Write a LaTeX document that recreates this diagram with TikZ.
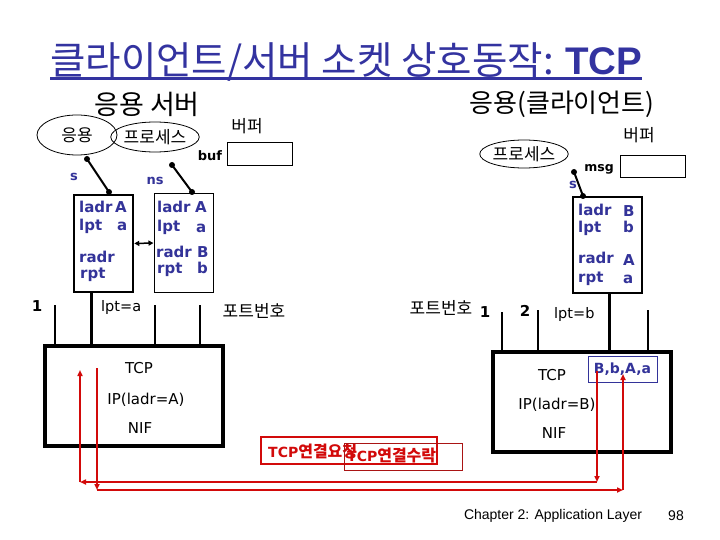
\documentclass[tikz,border=0pt]{standalone}
\usepackage{fontspec}
\setmainfont{DejaVu Sans}
\newfontfamily\kr{Noto Sans CJK KR}
\newfontfamily\lib{Liberation Sans}
\usetikzlibrary{shapes.geometric,arrows.meta}
\definecolor{tblue}{RGB}{51,51,160}
\definecolor{sblue}{RGB}{51,51,153}
\definecolor{rred}{RGB}{210,10,10}
\definecolor{dred}{RGB}{170,20,20}
\begin{document}
\begin{tikzpicture}[x=1pt,y=-1pt,
  fld/.style={anchor=base west,inner sep=0,text=sblue,font=\fontsize{15}{15}\selectfont\bfseries},
  lbl/.style={inner sep=0,font=\fontsize{#1}{#1}\selectfont},
  krl/.style={inner sep=0,font=\fontsize{#1}{#1}\selectfont\kr},
  ell/.style={ellipse,draw,line width=0.8,inner sep=0},
  dot/.style={circle,fill=black,inner sep=0,minimum size=6},
  sock/.style={draw,line width=2},
  portl/.style={draw,line width=2},
  stack/.style={draw,line width=4,inner sep=0,minimum width=178,minimum height=100},
  rl/.style={draw=rred,line width=1.5,-{Triangle[length=6pt,width=5pt]}},
  dbl/.style={draw,line width=1.5,{Triangle[length=5pt,width=5pt]}-{Triangle[length=5pt,width=5pt]}},
  sbox/.style={draw,inner sep=0}]
\useasboundingbox (0,0) rectangle (720,540);
\fill[white] (0,0) rectangle (720,540);

% title
\node[anchor=base west,inner sep=0,text=tblue,font=\fontsize{38.5}{38.5}\selectfont] (title) at (50,75)
  {{\kr 클라이언트/서버 소켓 상호동작: }{\lib\bfseries TCP}};
\draw[tblue,line width=3] ([yshift=-4pt]title.base west) -- ([yshift=-4pt]title.base east);

% headings
\node[krl=27] (srv) at (147,104) {응용 서버};
\node[krl=26] (cli) at (562,104) {응용(클라이언트)};

% server side
\node[ell,minimum width=80,minimum height=40,font=\fontsize{17}{17}\selectfont\kr] (app) at (77,135) {응용};
\node[ell,minimum width=76,minimum height=30,font=\fontsize{17}{17}\selectfont\kr] (procL) at (155,137) {프로세스};
\node[krl=17] (bufL) at (247,126) {버퍼};
\node[anchor=base,inner sep=0,font=\fontsize{13}{13}\selectfont\bfseries] (buf) at (210,161) {buf};
\node[sbox,line width=1,minimum width=65,minimum height=23] (bufbox) at (259.5,154.5) {};

\node[dot] (d1) at (87,159) {};
\node[dot] (d2) at (109,192) {};
\draw[sock] (d1.center) -- (d2.center);
\node[dot] (d3) at (172,165) {};
\node[dot] (d4) at (192,192) {};
\draw[sock] (d3.center) -- (d4.center);
\node[anchor=base,inner sep=0,text=sblue,font=\fontsize{13}{13}\selectfont\bfseries] (sL) at (74,181) {s};
\node[anchor=base,inner sep=0,text=sblue,font=\fontsize{13}{13}\selectfont\bfseries] (nsL) at (155,185) {ns};

\node[sbox,line width=2.5,minimum width=59,minimum height=97] (sockL) at (103.5,243.5) {};
\node[fld] (l1) at (79,212) {ladr};
\node[fld] (l2) at (115,212) {A};
\node[fld] (l3) at (79,230) {lpt};
\node[fld] (l4) at (117,230) {a};
\node[fld] (l5) at (79,262) {radr};
\node[fld] (l6) at (80,278) {rpt};

\node[sbox,line width=1,minimum width=59,minimum height=98] (sockM) at (183.5,243) {};
\node[fld] (m1) at (157,212) {ladr};
\node[fld] (m2) at (195,213) {A};
\node[fld] (m3) at (157,232) {lpt};
\node[fld] (m4) at (196,233) {a};
\node[fld] (m5) at (156,257) {radr};
\node[fld] (m6) at (197,257) {B};
\node[fld] (m7) at (157,273) {rpt};
\node[fld] (m8) at (197,273) {b};
\draw[dbl] (sockL.east) -- (sockM.west);

% server ports
\node[stack] (stackL) at (134,396) {};
\node[anchor=base,inner sep=0,font=\fontsize{15}{15}\selectfont\bfseries] (oneL) at (37,311) {1};
\node[anchor=base west,inner sep=0,font=\fontsize{14.5}{14.5}\selectfont] (lpta) at (101,311) {lpt=a};
\node[krl=17] (portnoL) at (254,311) {포트번호};
\coordinate (p1) at (55,305);
\coordinate (p2) at (91,300);
\coordinate (p3) at (155,305);
\coordinate (p4) at (200,305);
\draw[portl] (p1) -- (p1 |- stackL.north);
\draw[draw,line width=3] (sockL.south -| p2) -- (p2 |- stackL.north);
\draw[portl] (p3) -- (p3 |- stackL.north);
\draw[portl] (p4) -- (p4 |- stackL.north);
\node[lbl=15] (tcpL) at (139,368) {TCP};
\node[lbl=15] (ipL) at (146,400) {IP(ladr=A)};
\node[lbl=15] (nifL) at (140,428) {NIF};

% client side
\node[ell,minimum width=84,minimum height=28,font=\fontsize{17}{17}\selectfont\kr] (procR) at (524,154) {프로세스};
\node[krl=17] (bufR) at (639,135) {버퍼};
\node[anchor=base,inner sep=0,font=\fontsize{12.5}{12.5}\selectfont\bfseries] (msg) at (599,172) {msg};
\node[sbox,line width=1,minimum width=65,minimum height=22] (msgbox) at (652.5,167) {};
\node[dot] (d5) at (574,172) {};
\node[dot] (d6) at (583,196) {};
\draw[sock] (d5.center) -- (d6.center);
\node[anchor=base,inner sep=0,text=sblue,font=\fontsize{13}{13}\selectfont\bfseries] (sR) at (573,189) {s};

\node[sbox,line width=1.2,minimum width=69,minimum height=96] (sockR) at (607.5,245) {};
\node[fld] (r1) at (578,215) {ladr};
\node[fld] (r2) at (623,217) {B};
\node[fld] (r3) at (578,233) {lpt};
\node[fld] (r4) at (623,233) {b};
\node[fld] (r5) at (578,263) {radr};
\node[fld] (r6) at (623,265) {A};
\node[fld] (r7) at (578,282) {rpt};
\node[fld] (r8) at (623,283) {a};

% client ports
\node[stack] (stackR) at (582,402) {};
\node[krl=17] (portnoR) at (441,308) {포트번호};
\node[anchor=base,inner sep=0,font=\fontsize{15}{15}\selectfont\bfseries] (oneR) at (485,317) {1};
\node[anchor=base,inner sep=0,font=\fontsize{15}{15}\selectfont\bfseries] (twoR) at (525,316) {2};
\node[anchor=base west,inner sep=0,font=\fontsize{14.5}{14.5}\selectfont] (lptb) at (554,318) {lpt=b};
\coordinate (q1) at (502,312);
\coordinate (q2) at (538,310);
\coordinate (q3) at (609,300);
\coordinate (q4) at (648,310);
\draw[portl] (q1) -- (q1 |- stackR.north);
\draw[portl] (q2) -- (q2 |- stackR.north);
\draw[draw,line width=3] (sockR.south -| q3) -- (q3 |- stackR.north);
\draw[portl] (q4) -- (q4 |- stackR.north);
\node[lbl=15] (tcpR) at (552,375) {TCP};
\node[lbl=15] (ipR) at (557,405) {IP(ladr=B)};
\node[lbl=15] (nifR) at (554,433) {NIF};
\node[sbox,draw=sblue,line width=1,minimum width=69,minimum height=26,text=sblue,font=\fontsize{14}{14}\selectfont\bfseries] (conn) at (622.5,369) {B,b,A,a};

% connection boxes
\node[sbox,draw=rred,line width=2,minimum width=176,minimum height=27] (reqbox) at (349,450.5) {};
\node[anchor=west,inner sep=0,text=rred,font=\fontsize{14}{14}\selectfont\bfseries] (reqtxt) at (268,451) {TCP{\fontsize{16}{16}\selectfont\kr\bfseries 연결요청}};
\node[sbox,draw=dred,line width=1,minimum width=118,minimum height=27] (accbox) at (403,456.5) {};
\node[anchor=west,inner sep=0,text=rred,font=\fontsize{14}{14}\selectfont\bfseries] (acctxt) at (347,456) {TCP{\fontsize{16}{16}\selectfont\kr\bfseries 연결수락}};

% red arrows
\coordinate (a1) at (597,371);
\coordinate (a2) at (597,482);
\coordinate (a3) at (80,482);
\coordinate (a4) at (80,370);
\draw[rl] (a1) -- (a2);
\draw[rl] (a2) -- (a3);
\draw[rl] (a3) -- (a4);
\coordinate (b1) at (97,368);
\coordinate (b2) at (97,490);
\coordinate (b3) at (623,490);
\coordinate (b4) at (623,374);
\draw[rl] (b1) -- (b2);
\draw[rl] (b2) -- (b3);
\draw[rl] (b3) -- (b4);

% footer
\node[inner sep=0,font=\fontsize{14}{14}\selectfont\lib] (foot) at (553,516) {Chapter 2: Application Layer};
\node[inner sep=0,font=\fontsize{14}{14}\selectfont\lib] (page) at (676,516) {98};
\end{tikzpicture}
\end{document}
